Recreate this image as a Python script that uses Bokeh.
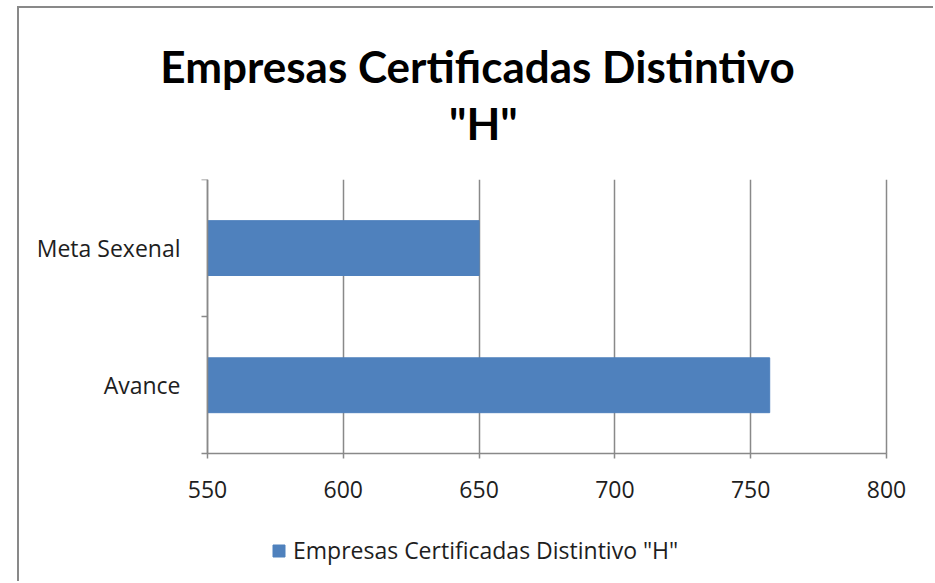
from bokeh.plotting import figure
from bokeh.models import (Range1d, FixedTicker, Legend, LegendItem, Title, ColumnDataSource,
                          LinearAxis, BoxAnnotation)
from bokeh.embed import file_html
from bokeh.resources import INLINE

categories = ["Avance", "Meta Sexenal"]
values = [757, 650]
x_ticks = [550, 600, 650, 700, 750, 800]
series_name = 'Empresas Certificadas Distintivo "H"'
title_lines = ["Empresas Certificadas Distintivo", '"H"']

BAR = "#4f81bd"
GRID = "#898989"
FONT = "Open Sans"
TFONT = "Lato"
TXT = "#1e1e1e"
FS = "23px"

# layout constants (pixels)
W, H = 916, 575
TOP = 170
AX_LEFT, AX_RIGHT = 188, 867   # pixel positions of first / last x tick
BAND = 137.5                   # pixels per category
frame_h = H - TOP
n = len(categories)
px_per_unit = (AX_RIGHT - AX_LEFT) / (x_ticks[-1] - x_ticks[0])

pos = [i + 0.5 for i in range(n)]
src = ColumnDataSource(dict(y=pos, right=values, left=[x_ticks[0]] * len(values)))

p = figure(width=W, height=H, output_backend="svg", toolbar_location=None,
           x_range=Range1d(x_ticks[0] - AX_LEFT / px_per_unit,
                           x_ticks[-1] + (W - AX_RIGHT) / px_per_unit),
           y_range=Range1d(n - frame_h / BAND, n),
           x_axis_location=None, y_axis_location=None,
           min_border_left=0, min_border_right=0, min_border_top=TOP, min_border_bottom=0,
           outline_line_color=None, background_fill_color="white", border_fill_color="white")
p.styles = {"margin-left": "17px", "margin-top": "6px",
            "border-left": "2px solid #898989", "border-top": "2px solid #898989"}

r = p.hbar(y="y", left="left", right="right", height=0.4, source=src,
           fill_color=BAR, line_color=BAR)

# x axis fixed at the bottom of the category area
xa = LinearAxis(fixed_location=0, bounds=(x_ticks[0], x_ticks[-1]))
xa.ticker = FixedTicker(ticks=x_ticks)
xa.axis_line_color = GRID
xa.axis_line_width = 1.5
xa.major_tick_line_color = GRID
xa.major_tick_line_width = 1.5
xa.major_tick_in = 0
xa.major_tick_out = 5
xa.minor_tick_line_color = None
xa.major_label_text_font = FONT
xa.major_label_text_font_size = FS
xa.major_label_text_color = TXT
xa.major_label_standoff = 22
p.add_layout(xa, "below")

# y axis fixed at the first x tick
ya = LinearAxis(fixed_location=x_ticks[0], bounds=(0, n))
ya.ticker = FixedTicker(ticks=pos, minor_ticks=list(range(n + 1)))
ya.major_label_overrides = {pp: c for pp, c in zip(pos, categories)}
ya.axis_line_color = GRID
ya.axis_line_width = 1.5
ya.major_tick_line_color = None
ya.minor_tick_line_color = GRID
ya.minor_tick_line_width = 1.5
ya.minor_tick_in = 0
ya.minor_tick_out = 6
ya.major_label_text_font = FONT
ya.major_label_text_font_size = FS
ya.major_label_text_color = TXT
ya.major_label_standoff = 21
p.add_layout(ya, "left")

p.xgrid.ticker = FixedTicker(ticks=x_ticks)
p.xgrid.grid_line_color = GRID
p.xgrid.grid_line_width = 1.5
p.ygrid.grid_line_color = None
# hide the grid below the category area
p.add_layout(BoxAnnotation(top=0, fill_color="white", fill_alpha=1, line_color=None,
                           level="underlay"))

# two-line title, centred on the chart (second line indented with no-break spaces
# so that it sits centred under the first line)
title_text = title_lines[0] + "\n" + "\u00a0" * 27 + title_lines[1]
p.add_layout(Title(text=title_text, align="center", text_font=TFONT,
                   text_font_style="bold", text_font_size="44px", text_color="black",
                   text_line_height=1.1, standoff=60), "above")

legend = Legend(items=[LegendItem(label=series_name, renderers=[r])],
                location=(252, 17), orientation="horizontal",
                label_text_font=FONT, label_text_font_size=FS, label_text_color=TXT,
                glyph_width=15, glyph_height=15, border_line_color=None,
                background_fill_alpha=0, padding=0, spacing=0, label_standoff=7, margin=0)
p.add_layout(legend, "center")

open("out.html", "w").write(file_html(p, INLINE))
